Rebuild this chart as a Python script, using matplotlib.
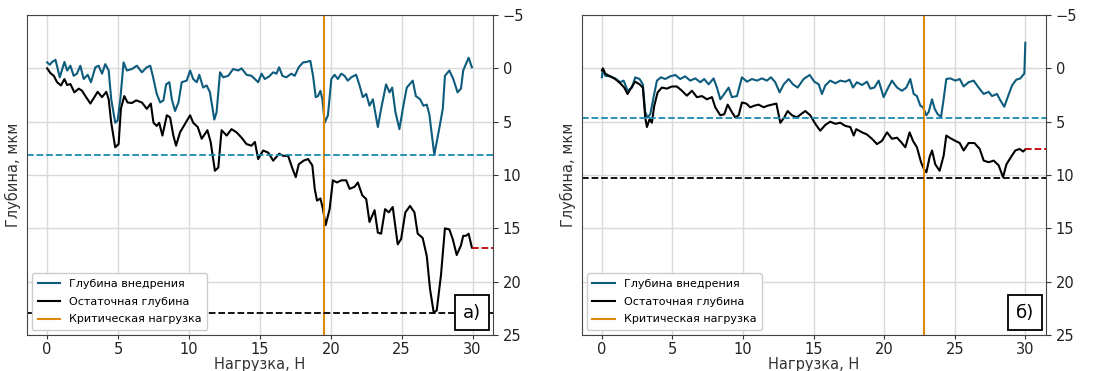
import matplotlib.pyplot as plt

# панель а)
xa_pen = [0, 0.19, 0.35, 0.59, 0.89, 1.22, 1.41, 1.64, 1.87, 2.1, 2.34, 2.58, 2.86, 3.09, 3.4, 3.63,
          3.87, 4.1, 4.34, 4.52, 4.8, 4.97, 5.16, 5.39, 5.62, 5.98, 6.33, 6.68, 7.03, 7.27, 7.45,
          7.73, 7.97, 8.2, 8.39, 8.62, 8.79, 9.02, 9.26, 9.49, 9.84, 10.08, 10.3, 10.55, 10.73,
          11.0, 11.25, 11.48, 11.79, 11.95, 12.19, 12.42, 12.77, 13.12, 13.48, 13.71, 14.06,
          14.41, 14.65, 14.88, 15.12, 15.35, 15.66, 15.94, 16.17, 16.36, 16.59, 16.87, 17.22,
          17.46, 17.74, 18.05, 18.28, 18.56, 18.75, 18.94, 19.1, 19.27, 19.41, 19.57, 19.8,
          20.04, 20.27, 20.5, 20.74, 20.97, 21.2, 21.44, 21.79, 22.03, 22.26, 22.5, 22.73,
          22.97, 23.32, 23.55, 23.9, 24.14, 24.33, 24.56, 24.84, 25.12, 25.36, 25.78, 26.0,
          26.3, 26.53, 26.77, 26.95, 27.3, 27.6, 27.9, 28.05, 28.36, 28.64, 28.94, 29.18,
          29.34, 29.72, 29.95]
ya_pen = [-0.56, -0.34, -0.6, -0.8, 0.84, -0.6, 0.2, -0.25, 0.7, 0.5, -0.25, 1.0, 0.6, 1.3, -0.1,
          -0.25, 0.5, -0.4, 0.2, 2.9, 5.1, 4.9, 2.9, -0.56, 0.2, 0.06, -0.25, 0.37, -0.1, -0.25,
          0.7, 2.4, 3.2, 3.0, 1.5, 1.3, 2.9, 4.0, 3.2, 1.3, 1.15, 0.2, 1.0, 1.3, 0.6, 1.8, 1.6,
          2.25, 4.8, 4.1, 0.37, 0.84, 0.7, 0.06, 0.2, 0.0, 0.6, 0.7, 1.0, 1.3, 0.5, 1.0, 0.75,
          0.37, 0.5, -0.1, 0.7, 0.84, 0.5, 0.7, -0.1, -0.56, -0.6, -0.7, 0.7, 2.7, 2.6, 2.1,
          2.9, 5.1, 4.4, 1.0, 0.6, 1.0, 0.5, 0.7, 1.15, 0.84, 0.6, 1.6, 2.7, 2.4, 3.5, 2.9,
          5.5, 3.8, 1.5, 2.25, 1.8, 4.1, 5.7, 3.5, 1.8, 1.15, 2.6, 2.9, 3.5, 3.4, 4.3, 8.1,
          6.0, 3.8, 0.7, 0.2, 1.0, 2.25, 1.9, 0.2, -1.0, -0.1]

xa_res = [0, 0.23, 0.47, 0.7, 0.98, 1.22, 1.41, 1.64, 1.92, 2.23, 2.46, 2.7, 3.05, 3.33, 3.56,
          3.87, 4.17, 4.34, 4.52, 4.8, 5.04, 5.2, 5.44, 5.67, 5.98, 6.28, 6.68, 7.03, 7.31, 7.5,
          7.73, 7.9, 8.13, 8.44, 8.67, 8.9, 9.09, 9.37, 9.68, 10.08, 10.3, 10.62, 10.9, 11.3,
          11.53, 11.83, 12.07, 12.3, 12.66, 13.0, 13.36, 13.71, 14.06, 14.41, 14.65, 14.88,
          15.23, 15.59, 15.94, 16.36, 16.64, 16.99, 17.3, 17.53, 17.74, 18.09, 18.4, 18.7,
          18.87, 19.03, 19.27, 19.45, 19.64, 19.92, 20.15, 20.44, 20.74, 21.09, 21.33, 21.68,
          21.91, 22.22, 22.5, 22.73, 23.09, 23.32, 23.55, 23.83, 24.09, 24.37, 24.72, 24.96,
          25.26, 25.59, 25.9, 26.13, 26.48, 26.77, 27.0, 27.26, 27.47, 27.77, 28.05, 28.36,
          28.6, 28.88, 29.18, 29.34, 29.53, 29.72, 29.95]
ya_res = [0, 0.44, 0.7, 1.3, 1.6, 1.0, 1.56, 1.47, 2.25, 1.9, 2.1, 2.6, 3.3, 2.7, 2.2, 2.7, 2.2,
          2.9, 5.1, 7.4, 7.1, 3.8, 2.6, 3.2, 3.25, 3.0, 3.2, 3.8, 3.3, 5.1, 5.4, 5.1, 6.3, 4.4,
          4.6, 6.3, 7.25, 6.0, 5.3, 4.4, 5.1, 5.5, 6.6, 5.8, 6.9, 9.6, 9.3, 5.8, 6.3, 5.7, 6.0,
          6.5, 7.1, 7.25, 6.9, 8.5, 7.7, 7.9, 8.65, 8.0, 8.2, 8.2, 9.4, 10.2, 9.0, 8.65, 8.5,
          9.1, 11.3, 12.4, 12.2, 13.2, 14.7, 13.2, 10.5, 10.7, 10.5, 10.5, 11.3, 11.1, 10.7,
          11.9, 12.25, 14.4, 13.3, 15.4, 15.5, 13.2, 13.5, 13.0, 16.5, 16.0, 13.5, 12.9, 13.5,
          15.5, 15.9, 17.6, 20.7, 22.9, 22.7, 19.4, 15.0, 15.1, 16.0, 17.5, 16.6, 15.7, 15.7,
          15.5, 16.8]

crit_a = 19.5
pen_max_a = 8.1
res_max_a = 22.95
res_end_a = 16.8

# панель б)
xb_pen = [0, 0.07, 0.24, 0.59, 0.94, 1.3, 1.54, 1.82, 2.13, 2.36, 2.67, 2.9, 3.07, 3.24, 3.43,
          3.66, 3.9, 4.18, 4.49, 4.84, 5.2, 5.55, 5.9, 6.26, 6.62, 6.97, 7.25, 7.56, 7.91, 8.15,
          8.39, 8.67, 8.98, 9.21, 9.57, 9.92, 10.28, 10.63, 10.99, 11.34, 11.69, 11.98, 12.28,
          12.59, 12.88, 13.23, 13.54, 13.87, 14.29, 14.72, 15.05, 15.36, 15.59, 15.83, 16.18,
          16.54, 16.89, 17.25, 17.55, 17.79, 18.07, 18.43, 18.78, 19.02, 19.3, 19.61, 19.96,
          20.25, 20.55, 20.91, 21.26, 21.57, 21.85, 22.09, 22.32, 22.56, 22.75, 22.99, 23.15,
          23.39, 23.58, 23.79, 24.03, 24.21, 24.4, 24.69, 25.04, 25.35, 25.63, 25.98, 26.34,
          26.69, 27.05, 27.4, 27.64, 27.99, 28.23, 28.51, 28.75, 29.06, 29.36, 29.65, 29.84,
          29.93, 30.0]
yb_pen = [0.84, 0.06, 0.7, 0.75, 0.94, 1.3, 1.15, 2.1, 1.8, 0.84, 1.0, 1.5, 4.1, 4.6, 4.3, 2.7,
          1.15, 0.84, 1.0, 0.75, 0.62, 1.0, 0.75, 1.15, 0.94, 1.3, 1.0, 1.5, 0.94, 1.8, 2.9,
          2.4, 1.8, 2.7, 2.6, 0.84, 1.25, 1.0, 1.15, 0.94, 1.15, 0.84, 1.3, 2.25, 1.5, 1.0,
          1.5, 1.8, 1.0, 0.62, 1.25, 1.5, 2.4, 1.6, 1.15, 1.4, 1.15, 1.25, 1.06, 1.8, 1.3,
          1.56, 1.25, 1.9, 1.8, 1.15, 2.7, 1.9, 1.15, 1.8, 2.1, 1.8, 1.0, 2.4, 2.6, 3.5, 3.65,
          4.4, 4.1, 2.9, 3.8, 4.3, 4.55, 2.9, 1.0, 0.94, 1.15, 1.0, 1.7, 1.3, 1.15, 1.8, 2.4,
          2.2, 2.6, 2.4, 3.0, 3.6, 2.7, 1.6, 1.06, 0.94, 0.62, 0.5, -2.4]

xb_res = [0, 0.07, 0.24, 0.59, 0.94, 1.3, 1.58, 1.82, 2.13, 2.36, 2.67, 2.9, 3.07, 3.19, 3.38,
          3.54, 3.71, 3.95, 4.25, 4.6, 4.96, 5.31, 5.67, 6.02, 6.38, 6.73, 7.09, 7.44, 7.8, 8.03,
          8.39, 8.67, 8.91, 9.21, 9.45, 9.69, 9.92, 10.23, 10.51, 10.8, 11.1, 11.46, 11.74,
          12.05, 12.36, 12.64, 12.92, 13.16, 13.47, 13.82, 14.1, 14.41, 14.76, 15.12, 15.47,
          15.83, 16.18, 16.54, 16.89, 17.25, 17.6, 17.84, 18.02, 18.43, 18.78, 19.13, 19.49,
          19.84, 20.2, 20.55, 20.91, 21.19, 21.5, 21.8, 22.04, 22.32, 22.61, 22.8, 22.99,
          23.22, 23.39, 23.62, 23.93, 24.21, 24.4, 24.69, 25.04, 25.35, 25.63, 25.98, 26.39,
          26.77, 27.05, 27.4, 27.76, 28.11, 28.42, 28.66, 28.99, 29.29, 29.6, 29.84, 30.0]
yb_res = [0.2, 0.0, 0.5, 0.75, 1.0, 1.4, 1.8, 2.4, 1.7, 1.25, 1.5, 1.8, 4.6, 5.5, 4.75, 5.1,
          3.5, 2.25, 1.8, 1.9, 1.7, 1.7, 2.1, 2.56, 2.1, 2.7, 2.6, 2.9, 2.7, 3.65, 4.4, 4.3,
          3.4, 4.1, 4.6, 4.4, 3.2, 3.3, 3.65, 3.5, 3.4, 3.65, 3.5, 3.4, 3.3, 5.1, 4.6, 4.0,
          4.4, 4.6, 4.3, 4.0, 4.4, 5.2, 5.85, 5.3, 5.0, 5.2, 5.1, 5.4, 5.5, 6.3, 5.7, 6.0,
          6.2, 6.6, 7.1, 6.8, 6.0, 6.6, 6.5, 6.9, 7.4, 6.0, 6.8, 7.4, 8.8, 9.4, 9.75, 8.3,
          7.7, 9.0, 9.6, 8.2, 6.3, 6.55, 6.8, 7.0, 7.7, 7.0, 7.0, 7.56, 8.65, 8.8, 8.65, 9.1,
          10.2, 9.0, 8.3, 7.7, 7.56, 7.8, 7.6]

crit_b = 22.8
pen_max_b = 4.65
res_max_b = 10.3
res_end_b = 7.6

pen_color = '#0d5c7d'
pen_dash = '#1b8ab0'
crit_color = '#e08a0c'

fig = plt.figure(figsize=(11.02, 3.71), dpi=100)
ax1 = fig.add_axes([0.0245, 0.097, 0.423, 0.8625])
ax2 = fig.add_axes([0.528, 0.097, 0.421, 0.8625])


def draw(ax, xp, yp, xr, yr, crit, pmax, rmax, rend, label):
    xlim = (-1.42, 31.45)
    ax.grid(True, color='#d9d9d9', linewidth=1)
    ax.set_axisbelow(True)
    ax.plot(xp, yp, color=pen_color, lw=1.5, label='Глубина внедрения')
    ax.plot(xr, yr, color='black', lw=1.5, label='Остаточная глубина')
    ax.axvline(crit, color=crit_color, lw=1.5, label='Критическая нагрузка')
    ax.axhline(pmax, color=pen_dash, ls='--', lw=1.3)
    ax.axhline(rmax, color='black', ls='--', lw=1.3)
    ax.hlines(rend, xr[-1], xlim[1], color='#c00000', ls='--', lw=1.3)
    ax.set_xlim(*xlim)
    ax.set_ylim(25, -5)
    ax.set_xticks(range(0, 31, 5))
    ax.set_yticks(range(-5, 26, 5))
    ax.yaxis.tick_right()
    ax.yaxis.set_label_position('left')
    ax.tick_params(labelsize=10.5, colors='#333333', labelcolor='#222222')
    ax.tick_params(axis='x', pad=2, length=3)
    ax.set_xlabel('Нагрузка, Н', fontsize=10.5, color='#333333', labelpad=0)
    ax.set_ylabel('Глубина, мкм', fontsize=10.5, color='#333333', labelpad=4)
    for s in ax.spines.values():
        s.set_color('#444444')
    ax.legend(loc='lower left', fontsize=8, framealpha=1, borderaxespad=0.45,
              labelspacing=0.7, borderpad=0.5, handlelength=2.0)
    ax.text(0.955, 0.07, label, transform=ax.transAxes, fontsize=13, ha='center', va='center',
            bbox=dict(boxstyle='square,pad=0.45', fc='white', ec='black', lw=1.3))


draw(ax1, xa_pen, ya_pen, xa_res, ya_res, crit_a, pen_max_a, res_max_a, res_end_a, 'а)')
draw(ax2, xb_pen, yb_pen, xb_res, yb_res, crit_b, pen_max_b, res_max_b, res_end_b, 'б)')

fig.savefig('out.png', dpi=100)
